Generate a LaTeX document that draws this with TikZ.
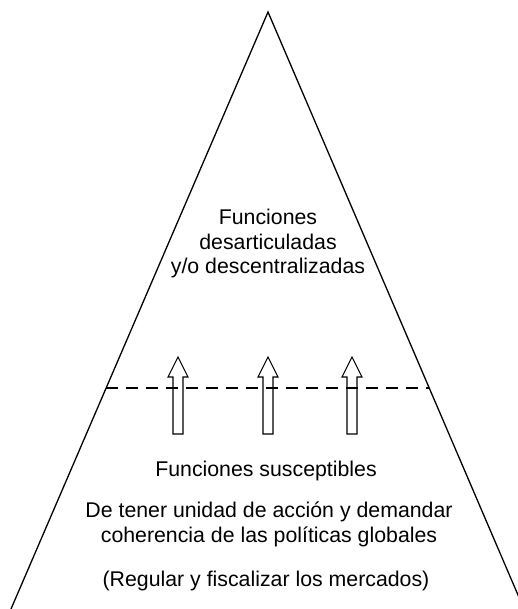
\documentclass[tikz,border=0pt]{standalone}
\usepackage{fontspec}
\setmainfont{Liberation Sans}
\begin{document}
\begin{tikzpicture}[x=1pt,y=-1pt,
  side/.style={line width=1.3pt},
  divider/.style={line width=1.2pt,dash pattern=on 12pt off 8pt},
  uparrow/.style={line width=1.1pt,line join=miter},
  lbl/.style={anchor=base,inner sep=0pt,font=\fontsize{21.3}{24}\selectfont}]
\useasboundingbox (0,0) rectangle (518,609);
\clip (0,0) rectangle (518,609);
% triangle
\coordinate (apex) at (268,12);
\coordinate (bl) at (11,609);
\coordinate (br) at (524,609);
\draw[side] (bl) -- (apex) -- (br);
% dashed divider
\coordinate (dl) at (106,388);
\coordinate (dr) at (429,388);
\draw[divider] (dl) -- (dr);
% arrows
\foreach \n/\x in {a1/178,a2/268,a3/352}{
  \draw[uparrow] (\x-5,434) -- (\x-5,377) -- (\x-10,377) -- (\x,357) -- (\x+10,377) -- (\x+5,377) -- (\x+5,434) -- cycle;
}
% texts
\node[lbl] (t1) at (268,225) {Funciones};
\node[lbl] (t2) at (268,249) {desarticuladas};
\node[lbl] (t3) at (268,273) {y/o descentralizadas};
\node[lbl] (b1) at (266,476) {Funciones susceptibles};
\node[lbl] (b2) at (269,517) {De tener unidad de acción y demandar};
\node[lbl] (b3) at (269,542) {coherencia de las políticas globales};
\node[lbl] (b4) at (266,586) {(Regular y fiscalizar los mercados)};
\end{tikzpicture}
\end{document}
